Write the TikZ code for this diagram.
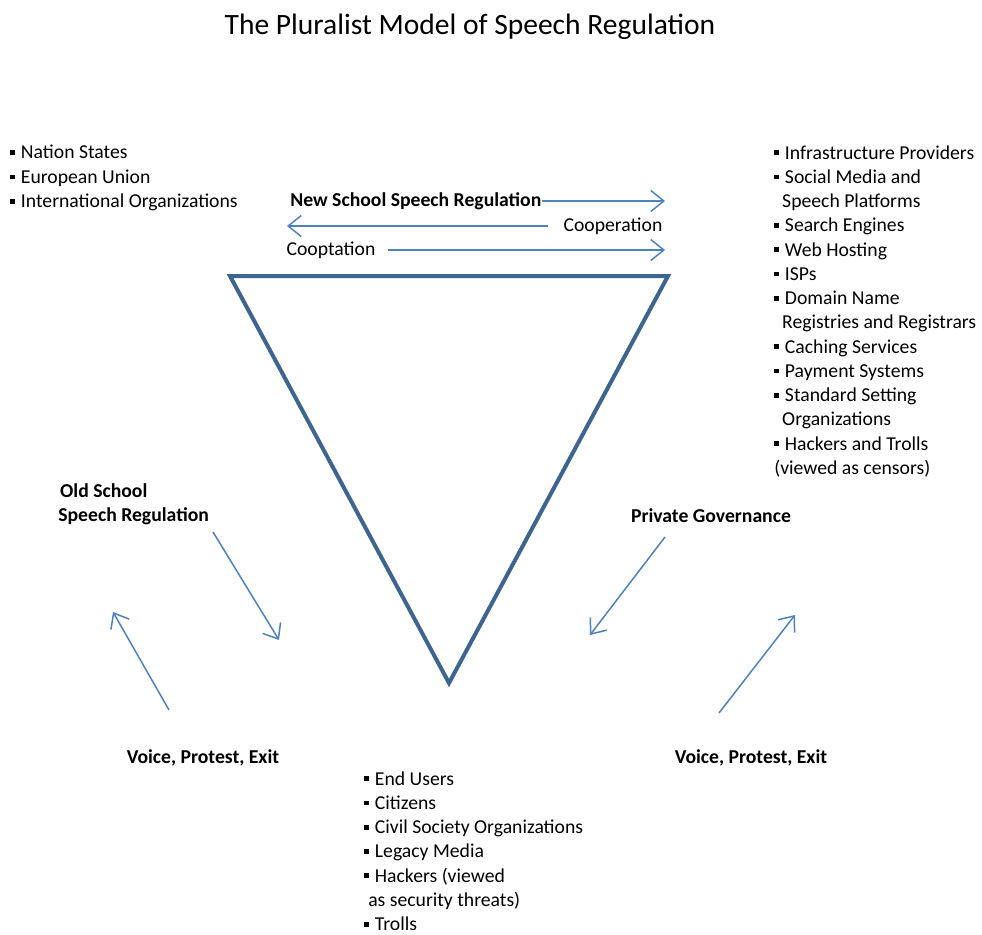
\documentclass[tikz,border=0pt]{standalone}
\usepackage{fontspec}
\setmainfont{Carlito}
\definecolor{arrowblue}{HTML}{4F81BD}
\definecolor{triblue}{HTML}{3E6490}
\usetikzlibrary{arrows.meta}
\newcommand{\bul}{\rule[0.2em]{0.24em}{0.24em}\hspace{0.3em}}
\tikzset{
  txt/.style={font=\fontsize{11.2}{13.8}\selectfont, inner sep=0pt},
  list/.style={txt, align=left, anchor=north west},
  head/.style={txt, font=\fontsize{11.2}{13.8}\selectfont\bfseries},
  flow/.style={draw=arrowblue, line width=0.3mm, -{Straight Barb[length=2.6mm, width=4.2mm]}},
}

\begin{document}
\begin{tikzpicture}[x=0.2mm, y=-0.2mm]
	\useasboundingbox (0,0) rectangle (982,935);
	\node[font=\fontsize{16.8}{20}\selectfont] at (470,27) (title) {The Pluralist Model of Speech Regulation};

	% the three corners of the pyramid
	\coordinate (tl) at (230,276);
	\coordinate (tr) at (668,276);
	\coordinate (apex) at (449,683);
	\draw[triblue, line width=0.8mm] (tl) -- (tr) -- (apex) -- cycle;

	\node[list] at (10,145) (states) {\bul Nation States\\ \bul European Union\\ \bul International Organizations};
	\node[list] at (774,145) (private list) {\bul Infrastructure Providers\\ \bul Social Media and\\ \hspace{0.4em}Speech Platforms\\ \bul Search Engines\\ \bul Web Hosting\\ \bul ISPs\\ \bul Domain Name\\ \hspace{0.4em}Registries and Registrars\\ \bul Caching Services\\ \bul Payment Systems\\ \bul Standard Setting\\ \hspace{0.4em}Organizations\\ \bul Hackers and Trolls\\ (viewed as censors)};
	\node[list] at (364,771) (users) {\bul End Users\\ \bul Citizens\\ \bul Civil Society Organizations\\ \bul Legacy Media\\ \bul Hackers (viewed\\ \hspace{0.2em}as security threats)\\ \bul Trolls};

	% new school: states <-> infrastructure
	\node[head, anchor=west] at (290,201) (newschool) {New School Speech Regulation};
	\node[txt, inner xsep=3mm] at (613,226) (coop) {Cooperation};
	\node[txt, inner xsep=2.4mm] at (331,250) (coopt) {Cooptation};
	\coordinate (ns end) at (665,201);
	\coordinate (coop end) at (287,226);
	\coordinate (coopt end) at (665,250);
	\draw[flow] (newschool.east) -- (ns end);
	\draw[flow] (coop.west) -- (coop end);
	\draw[flow] (coopt.east) -- (coopt end);

	% old school side
	\node[head, align=left, anchor=north west] at (58,483) (oldschool) {\hspace{1pt}Old School\\Speech Regulation};
	\node[head] at (203,758) (voice l) {Voice, Protest, Exit};
	\coordinate (os tail) at (213,532);
	\coordinate (os tip) at (279,640);
	\coordinate (vl tail) at (169,710);
	\coordinate (vl tip) at (113,612);
	\draw[flow] (os tail) -- (os tip);
	\draw[flow] (vl tail) -- (vl tip);

	% private governance side
	\node[head] at (711,516) (private) {Private Governance};
	\node[head] at (751,758) (voice r) {Voice, Protest, Exit};
	\coordinate (pg tail) at (665,537);
	\coordinate (pg tip) at (590,635);
	\coordinate (vr tail) at (719,713);
	\coordinate (vr tip) at (795,615);
	\draw[flow] (pg tail) -- (pg tip);
	\draw[flow] (vr tail) -- (vr tip);
\end{tikzpicture}
\end{document}
